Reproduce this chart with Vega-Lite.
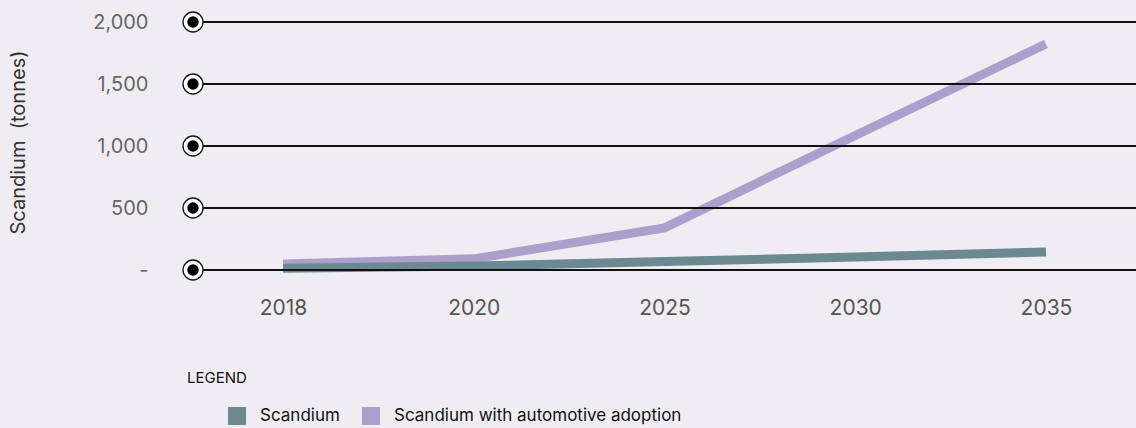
{
  "$schema": "https://vega.github.io/schema/vega-lite/v6.json",
  "width": 943,
  "height": 248,
  "autosize": {"type": "none"},
  "padding": {"left": 193, "top": 22, "right": 0, "bottom": 158},
  "background": "#efedf2",
  "config": {
    "view": {"stroke": null},
    "font": "Inter"
  },
  "title": {
    "text": "LEGEND", "orient": "bottom", "anchor": "start", "frame": "group",
    "offset": -54, "dx": -6, "fontSize": 15, "fontWeight": 400, "color": "#111111", "font": "Inter"
  },
  "datasets": {
    "series": [
      {"year": "2018", "series": "Scandium with automotive adoption", "tonnes": 48},
      {"year": "2020", "series": "Scandium with automotive adoption", "tonnes": 90},
      {"year": "2025", "series": "Scandium with automotive adoption", "tonnes": 340},
      {"year": "2030", "series": "Scandium with automotive adoption", "tonnes": 1085},
      {"year": "2035", "series": "Scandium with automotive adoption", "tonnes": 1823},
      {"year": "2018", "series": "Scandium", "tonnes": 15},
      {"year": "2020", "series": "Scandium", "tonnes": 32},
      {"year": "2025", "series": "Scandium", "tonnes": 68},
      {"year": "2030", "series": "Scandium", "tonnes": 105},
      {"year": "2035", "series": "Scandium", "tonnes": 145}
    ],
    "ticks": [{"tonnes": 0}, {"tonnes": 500}, {"tonnes": 1000}, {"tonnes": 1500}, {"tonnes": 2000}]
  },
  "layer": [
    {
      "data": {"name": "series"},
      "mark": {"type": "line", "strokeWidth": 9, "strokeCap": "butt", "strokeJoin": "miter"},
      "encoding": {
        "x": {
          "field": "year", "type": "ordinal",
          "scale": {"type": "point", "padding": 0.472},
          "axis": {
            "title": null, "domain": false, "ticks": false, "grid": false,
            "labelAngle": 0, "labelFontSize": 21, "labelColor": "#555555",
            "labelPadding": 27, "labelFont": "Inter", "labelFontWeight": 400
          }
        },
        "y": {
          "field": "tonnes", "type": "quantitative",
          "scale": {"domain": [0, 2000], "nice": false},
          "axis": {
            "values": [0, 500, 1000, 1500, 2000],
            "labelExpr": "datum.value == 0 ? '-' : format(datum.value, ',')",
            "title": "Scandium \u00a0(tonnes)",
            "titleFontSize": 20, "titleFontWeight": 400, "titleColor": "#333333",
            "titleX": -175, "titleY": 120, "titleAngle": -90,
            "titleAlign": "center", "titleBaseline": "middle",
            "domain": false, "ticks": false, "grid": false,
            "labelPadding": 45, "labelFontSize": 20, "labelColor": "#666666",
            "labelFont": "Inter"
          }
        },
        "color": {
          "field": "series", "type": "nominal",
          "sort": ["Scandium", "Scandium with automotive adoption"],
          "scale": {"domain": ["Scandium", "Scandium with automotive adoption"], "range": ["#6b8990", "#aba0cb"]},
          "legend": {
            "title": null,
            "orient": "none", "legendX": 35, "legendY": 385,
            "direction": "horizontal",
            "padding": 0,
            "symbolType": "square", "symbolSize": 324, "symbolStrokeWidth": 0,
            "labelFontSize": 17, "labelColor": "#111111", "labelOffset": 14,
            "labelLimit": 500,
            "columnPadding": 22,
            "encode": {
              "symbols": {"update": {"fill": {"scale": "color", "field": "value"}, "strokeWidth": {"value": 0}, "opacity": {"value": 1}}}
            }
          }
        },
        "order": {"field": "series", "sort": "descending"}
      }
    },
    {
      "data": {"name": "ticks"},
      "mark": {"type": "rule", "color": "#111111", "strokeWidth": 2},
      "encoding": {
        "y": {"field": "tonnes", "type": "quantitative"}
      }
    },
    {
      "data": {"name": "ticks"},
      "mark": {"type": "point", "shape": "circle", "filled": true, "fill": "#ffffff", "stroke": "#111111", "strokeWidth": 1.3, "size": 400, "opacity": 1},
      "encoding": {
        "x": {"value": 0},
        "y": {"field": "tonnes", "type": "quantitative"}
      }
    },
    {
      "data": {"name": "ticks"},
      "mark": {"type": "point", "shape": "circle", "filled": true, "fill": "#000000", "strokeWidth": 0, "size": 130, "opacity": 1},
      "encoding": {
        "x": {"value": 0},
        "y": {"field": "tonnes", "type": "quantitative"}
      }
    }
  ]
}
